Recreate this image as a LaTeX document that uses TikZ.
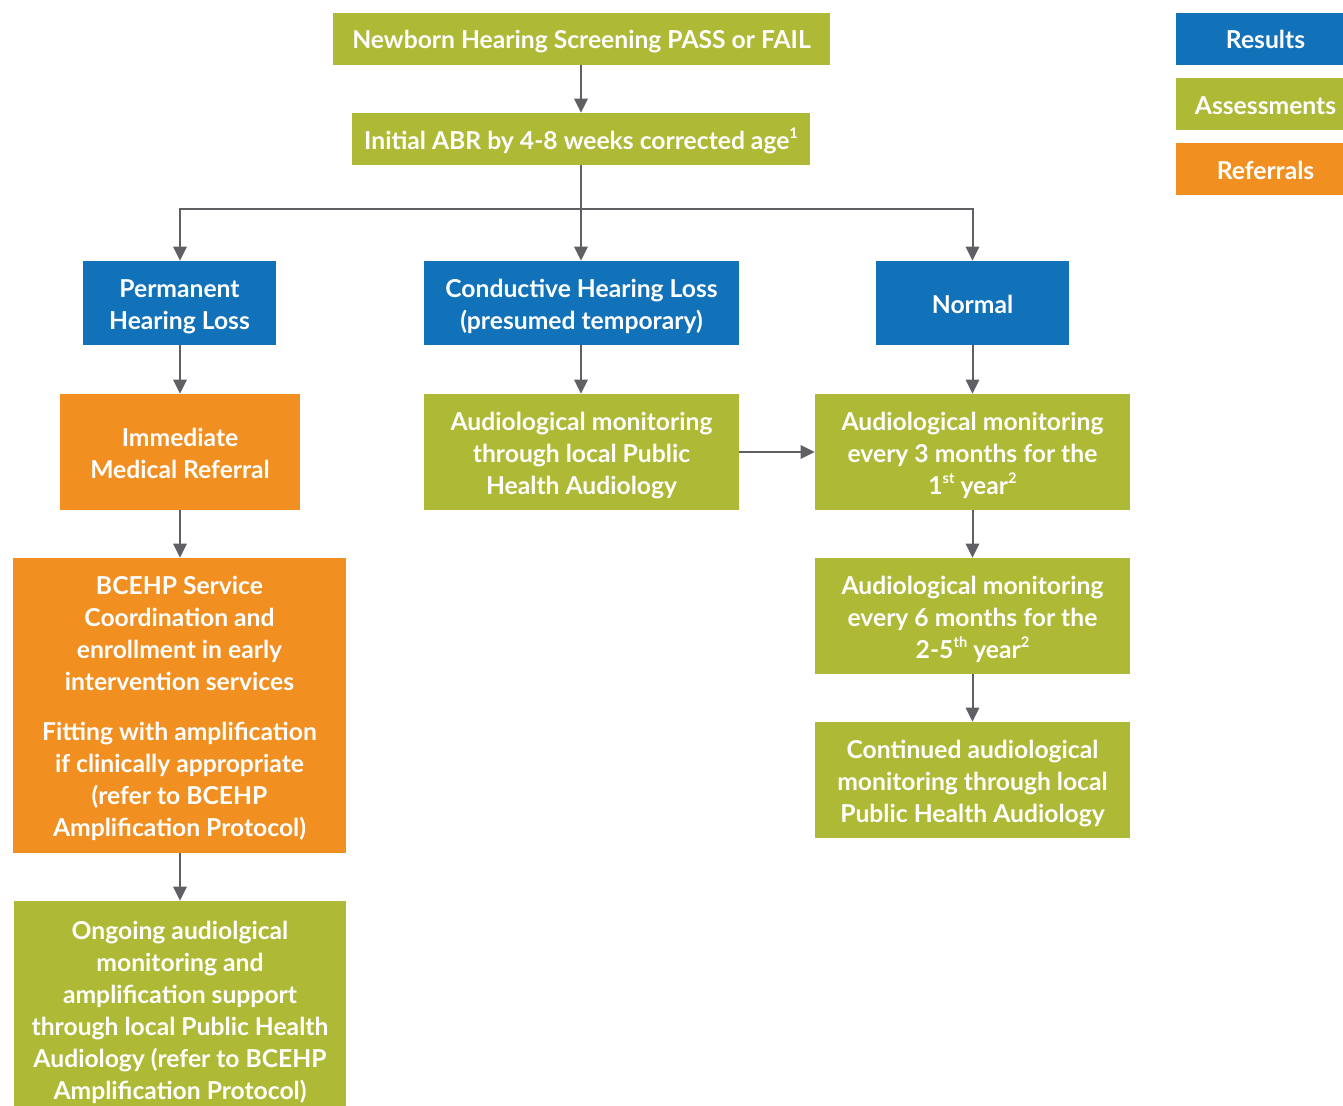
\documentclass[tikz,border=0pt]{standalone}
\usepackage{fontspec}
\setmainfont{Lato}
\usepackage{xcolor}
\usetikzlibrary{arrows.meta}
\definecolor{resblue}{RGB}{17, 114, 186}
\definecolor{assgreen}{RGB}{174, 185, 54}
\definecolor{reforange}{RGB}{241, 143, 33}
\definecolor{arrgrey}{RGB}{95, 95, 100}
\newcommand{\upmark}[1]{\raisebox{0.42em}{\fontsize{11}{11}\selectfont #1}}
\newcommand{\fl}{\rule{0pt}{19pt}}% strut for the first line of a multi-line box

\tikzset{
  box/.style={text=white, font=\bfseries\fontsize{18.5}{24}\selectfont, align=center, inner sep=0pt,
    execute at begin node={\fl}, execute at end node={\rule[-4pt]{0pt}{4pt}}},
  result/.style={box, fill=resblue},
  assess/.style={box, fill=assgreen},
  referral/.style={box, fill=reforange},
  flow/.style={draw=arrgrey, line width=1.5pt, -{Triangle[length=10.5pt,width=10pt]}},
  plainflow/.style={draw=arrgrey, line width=1.5pt},
}

\begin{document}
\begin{tikzpicture}[x=0.75pt,y=0.75pt,yscale=-1,xscale=1]
\useasboundingbox (0,0) rectangle (1343,1106);

%Top of the chart
\node (screen) [assess, minimum width=372.75pt, minimum height=39pt] at (581.5,39) {Newborn Hearing Screening PASS or FAIL};
\node (abr) [assess, minimum width=343.5pt, minimum height=39pt] at (581,139) {Initial ABR by 4-8 weeks corrected age\upmark{1}};
\coordinate (split) at (581,209);

%Results
\node (perm) [result, minimum width=144.75pt, minimum height=63pt] at (179.5,303) {\fl Permanent\\Hearing Loss};
\node (cond) [result, minimum width=236.25pt, minimum height=63pt] at (581.5,303) {\fl Conductive Hearing Loss\\(presumed temporary)};
\node (normal) [result, minimum width=144.75pt, minimum height=63pt] at (972.5,303) {Normal};

%Left column
\node (medref) [referral, minimum width=180pt, minimum height=87pt] at (180,452) {\fl Immediate\\Medical Referral};
\node (bcehp) [referral, minimum width=249.75pt, minimum height=221.25pt] at (179.5,705.5) {\fl BCEHP Service\\Coordination and\\enrollment in early\\intervention services\\[14pt]Fitting with amplification\\if clinically appropriate\\(refer to BCEHP\\Amplification Protocol)};
\node (ongoing) [assess, minimum width=249pt, minimum height=162pt] at (180,1009) {\fl Ongoing audiolgical\\monitoring and\\amplification support\\through local Public Health\\Audiology (refer to BCEHP\\Amplification Protocol)};

%Middle column
\node (localmon) [assess, minimum width=236.25pt, minimum height=87pt] at (581.5,452) {\fl Audiological monitoring\\through local Public\\Health Audiology};

%Right column
\node (threemo) [assess, minimum width=236.25pt, minimum height=87pt] at (972.5,452) {\fl Audiological monitoring\\every 3 months for the\\1\upmark{st} year\upmark{2}};
\node (sixmo) [assess, minimum width=236.25pt, minimum height=87pt] at (972.5,616) {\fl Audiological monitoring\\every 6 months for the\\2-5\upmark{th} year\upmark{2}};
\node (contmon) [assess, minimum width=236.25pt, minimum height=87pt] at (972.5,780) {\fl Continued audiological\\monitoring through local\\Public Health Audiology};

%Legend
\node (legres) [result, minimum width=134.25pt, minimum height=39pt] at (1265.5,39) {Results};
\node (legass) [assess, minimum width=134.25pt, minimum height=39pt] at (1265.5,104) {Assessments};
\node (legref) [referral, minimum width=134.25pt, minimum height=39pt] at (1265.5,169) {Referrals};

%Arrows
\draw [flow] (screen.south -| split) -- (abr.north -| split);
\draw [plainflow] (abr.south -| split) -- (split);
\draw [flow] (split) -| (perm.north -| medref);
\draw [flow] (split) -- (cond.north -| split);
\draw [flow] (split) -| (normal);
\draw [flow] (perm.south -| medref) -- (medref);
\draw [flow] (medref) -- (bcehp.north -| medref);
\draw [flow] (bcehp.south -| medref) -- (ongoing.north -| medref);
\draw [flow] (cond.south -| split) -- (localmon.north -| split);
\draw [flow] (localmon) -- (threemo);
\draw [flow] (normal) -- (threemo);
\draw [flow] (threemo) -- (sixmo);
\draw [flow] (sixmo) -- (contmon);

\end{tikzpicture}
\end{document}
